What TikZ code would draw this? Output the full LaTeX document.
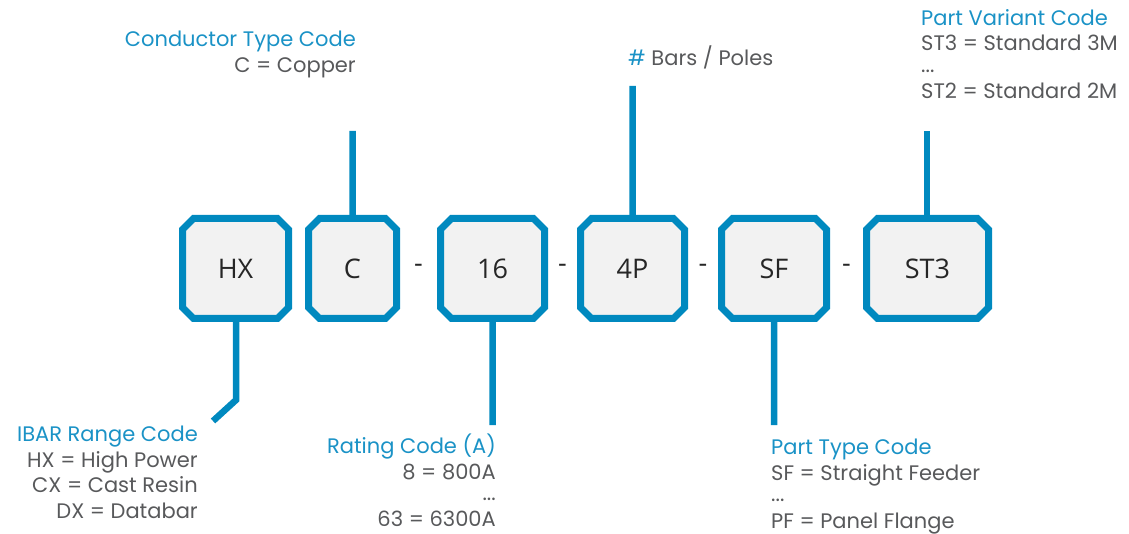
\documentclass[tikz,border=0pt]{standalone}
\usepackage{fontspec}
\setmainfont{Poppins}
\newfontfamily\boxfont{Open Sans}
\usetikzlibrary{positioning,shapes.misc}
\definecolor{barblue}{HTML}{0089BF}
\definecolor{keyblue}{HTML}{1A92C6}
\definecolor{keygray}{HTML}{58595B}
\definecolor{boxfill}{HTML}{F2F2F2}

\begin{document}
\begin{tikzpicture}[x=1pt,y=-1pt,
  codebox/.style={chamfered rectangle, chamfered rectangle xsep=5.5pt, chamfered rectangle ysep=5.5pt,
    draw=barblue, fill=boxfill, line width=7pt, minimum height=100pt, inner sep=0pt,
    font=\boxfont\fontsize{27}{30}\selectfont, text=black!85},
  stem/.style={draw=barblue, line width=6.5pt},
  dashlbl/.style={font=\boxfont\fontsize{27}{30}\selectfont, text=black!85},
  keytext/.style={inner sep=0pt, text=keygray, font=\fontsize{21}{25.5}\selectfont}]
\useasboundingbox (0,0) rectangle (1129,534);
% code boxes
\node [codebox, minimum width=106pt] (hx) at (235.5,268.5) {HX};
\node [codebox, minimum width=88pt, right=13pt of hx] (c) {C};
\node [codebox, minimum width=104pt, right=37pt of c] (r16) {16};
\node [codebox, minimum width=104pt, right=29pt of r16] (p4) {4P};
\node [codebox, minimum width=105pt, right=30pt of p4] (sf) {SF};
\node [codebox, minimum width=122pt, right=33pt of sf] (st3) {ST3};
\path (c) -- node[dashlbl]{-} (r16)
      (r16) -- node[dashlbl]{-} (p4)
      (p4) -- node[dashlbl]{-} (sf)
      (sf) -- node[dashlbl]{-} (st3);
% stem ends
\coordinate (ctop) at (352.5,131);
\coordinate (ptop) at (632.5,86);
\coordinate (stop) at (927,131);
\coordinate (hbend) at (236,400);
\coordinate (hend) at (213,421);
\coordinate (rend) at (492.5,425);
\coordinate (send) at (774,425);
\draw[stem] (c.north) -- (ctop);
\draw[stem] (p4.north) -- (ptop);
\draw[stem] (st3.north -| stop) -- (stop);
\draw[stem] (hx.south -| hbend) -- (hbend) -- (hend);
\draw[stem] (r16.south) -- (rend);
\draw[stem] (sf.south) -- (send);
% keys
\node [keytext, align=right, anchor=north east] (condkey) at (356,31)
  {\textcolor{keyblue}{Conductor Type Code}\\C = Copper};
\node [keytext, align=left, anchor=north west] (polekey) at (628,46)
  {\textcolor{keyblue}{\#} Bars / Poles};
\node [keytext, align=left, anchor=north west] (variantkey) at (921,9)
  {\textcolor{keyblue}{Part Variant Code}\\ST3 = Standard 3M\\[-4pt]...\\[1pt]ST2 = Standard 2M};
\node [keytext, align=right, anchor=north east] (rangekey) at (198,426)
  {\textcolor{keyblue}{IBAR Range Code}\\HX = High Power\\CX = Cast Resin\\DX = Databar};
\node [keytext, align=right, anchor=north east] (ratingkey) at (496,434)
  {\textcolor{keyblue}{Rating Code (A)}\\8 = 800A\\[-4pt]...\\[0pt]63 = 6300A};
\node [keytext, align=left, anchor=north west] (typekey) at (771,439)
  {\textcolor{keyblue}{Part Type Code}\\SF = Straight Feeder\\[-4pt]...\\[1pt]PF = Panel Flange};
\end{tikzpicture}
\end{document}
